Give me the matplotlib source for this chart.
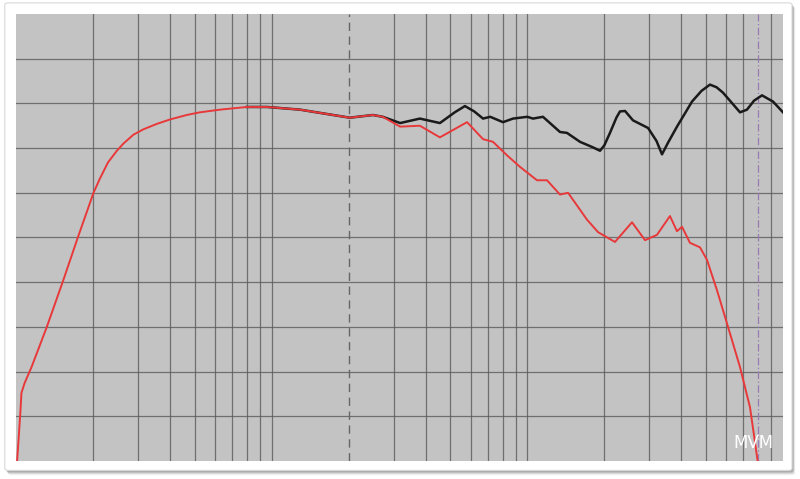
import matplotlib
matplotlib.use("Agg")
import matplotlib.pyplot as plt
from matplotlib.patches import FancyBboxPatch
import numpy as np

# frequency response (Hz, dB)
red_freq = [10.1, 10.4, 10.5, 10.8, 11.5, 13.2, 15.3, 17.5, 20.1, 21.3, 22.9, 24.8,
            26.3, 28.8, 31.5, 35.5, 40, 46.5, 52.4, 62.8, 80, 95.9, 129, 174, 202,
            249, 272,
            318, 380, 455, 581, 671, 734, 832, 936, 1091, 1194, 1342, 1443,
            1711, 1890, 2202, 2567, 2886, 3215, 3613, 3849, 4027, 4327, 4734,
            5043, 5518, 6037, 6790, 7430, 8050]
red_db = [-40, -34.6, -32.4, -31.3, -29.5, -25.0, -19.8, -14.9, -10.0, -8.4, -6.6, -5.3,
          -4.5, -3.5, -2.9, -2.3, -1.8, -1.3, -1.0, -0.7, -0.4, -0.4, -0.7, -1.3, -1.6,
          -1.3, -1.5,
          -2.6, -2.5, -3.8, -2.1, -4.0, -4.3, -5.8, -7.1, -8.6, -8.6, -10.2, -10.0,
          -13.0, -14.4, -15.5, -13.3, -15.3, -14.7, -12.6, -14.3, -13.8, -15.6, -16.1,
          -17.5, -20.9, -24.6, -29.5, -34.0, -41]

black_freq = [80, 95.9, 129, 174, 202, 249, 272,
              318, 380, 455, 520, 570, 620, 671, 716, 803, 879, 1000, 1052, 1151,
              1342, 1429, 1607, 1800, 1924, 2000, 2105, 2230, 2303, 2411, 2590,
              2966, 3200, 3363, 3550, 3849, 4406, 4800, 5180, 5500,
              5825, 6790, 7230, 7700, 8277, 9141, 10000]
black_db = [-0.4, -0.4, -0.7, -1.3, -1.6, -1.3, -1.5,
            -2.2, -1.7, -2.2, -1.0, -0.3, -0.9, -1.7, -1.5, -2.1, -1.7, -1.5, -1.7, -1.5,
            -3.2, -3.3, -4.3, -4.9, -5.3, -4.7, -3.3, -1.6, -0.9, -0.85, -1.9,
            -2.75, -4.2, -5.7, -4.4, -2.6, 0.2, 1.4, 2.1, 1.8,
            1.2, -1.0, -0.7, 0.3, 0.9, 0.2, -1.0]

grid_freqs = [20, 30, 40, 50, 60, 70, 80, 90, 100,
              300, 400, 500, 600, 700, 800, 900, 1000,
              2000, 3000, 4000, 5000, 6000, 7000, 9000]
marker_freq = 200
limit_freq = 8000

fig = plt.figure(figsize=(8, 4.79), dpi=100)
fig.patch.set_facecolor("white")

# framed card with a soft shadow
for i, a in enumerate([0.05, 0.07, 0.1, 0.14]):
    off = (4 - i) / 800
    fig.patches.append(FancyBboxPatch(
        (0.007 + off * 0.6, 0.016 - off * 1.6), 0.984, 0.977,
        boxstyle="round,pad=0,rounding_size=0.004",
        transform=fig.transFigure, facecolor="black", edgecolor="none",
        alpha=a, zorder=-2))
fig.patches.append(FancyBboxPatch(
    (0.006, 0.018), 0.984, 0.976,
    boxstyle="round,pad=0,rounding_size=0.004",
    transform=fig.transFigure, facecolor="white", edgecolor="#d8d8d8",
    linewidth=0.8, zorder=-1))

ax = fig.add_axes([0.02, 0.0376, 0.95875, 0.9332])
ax.set_zorder(5)
ax.set_facecolor("#c3c3c3")
ax.set_xscale("log")
ax.set_xlim(10, 10000)
ax.set_ylim(-40, 10)

for f in grid_freqs:
    ax.axvline(f, color="#5a5a5a", lw=0.9, alpha=0.8, zorder=1)
for y in np.arange(-35, 10, 5):
    ax.axhline(y, color="#5a5a5a", lw=0.9, alpha=0.8, zorder=1)
ax.axvline(marker_freq, color="#666666", lw=1.0, ls=(0, (6, 4)), zorder=1)
ax.axvline(limit_freq, color="#9a7ab0", lw=0.9, ls=(0, (6, 2, 1, 2)), zorder=1)

ax.plot(black_freq, black_db, color="#1a1a1a", lw=1.8, zorder=3,
        solid_joinstyle="round")
ax.plot(red_freq, red_db, color="#e8383a", lw=1.4, zorder=4,
        solid_joinstyle="round")

ax.text(0.988, 0.02, "MVM", transform=ax.transAxes, ha="right", va="bottom",
        color="white", fontsize=12, family="DejaVu Sans", zorder=5)

ax.set_xticks([])
ax.set_yticks([])
ax.minorticks_off()
for s in ax.spines.values():
    s.set_visible(False)

fig.savefig("out.png", dpi=100, facecolor="white")
